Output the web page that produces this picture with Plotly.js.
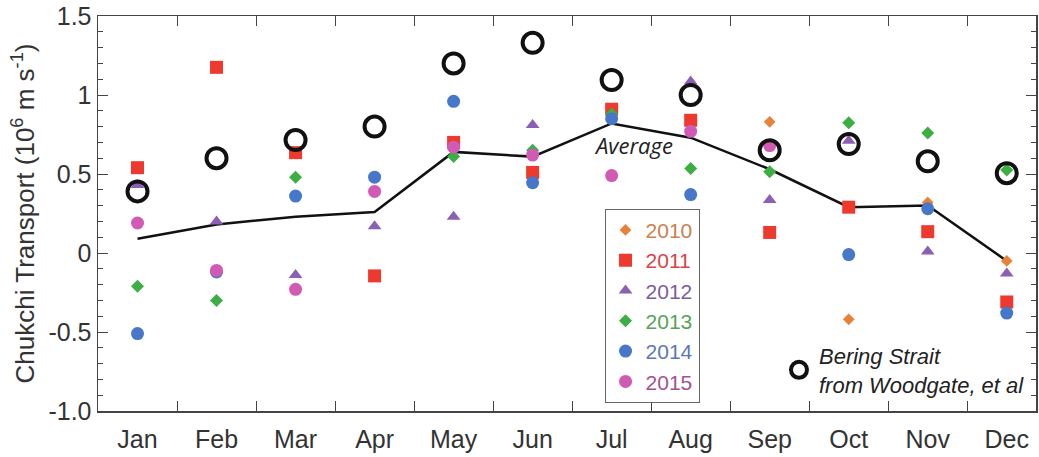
<!DOCTYPE html>
<html>
<head>
<meta charset="utf-8">
<script src="https://cdn.plot.ly/plotly-3.0.1.min.js"></script>
<style>html,body{margin:0;padding:0;background:#fff;}#chart{width:1039px;height:457px;}</style>
</head>
<body>
<div id="chart"></div>
<script>
const months = ["Jan","Feb","Mar","Apr","May","Jun","Jul","Aug","Sep","Oct","Nov","Dec"];
const y2010 = [null,null,null,null,null,null,null,null,0.83,-0.42,0.32,-0.05];
const y2011 = [0.54,1.175,0.635,-0.145,0.70,0.51,0.91,0.84,0.13,0.29,0.135,-0.31];
const y2012 = [0.43,0.20,-0.14,0.17,0.23,0.81,null,1.085,0.335,0.71,0.01,-0.13];
const y2013 = [-0.21,-0.30,0.48,null,0.61,0.65,0.88,0.535,0.515,0.825,0.76,0.525];
const y2014 = [-0.51,-0.12,0.36,0.48,0.96,0.445,0.85,0.37,null,-0.01,0.28,-0.38];
const y2015 = [0.19,-0.11,-0.23,0.39,0.67,0.62,0.49,0.77,0.68,null,null,null];
const average = [0.09,0.18,0.23,0.26,0.64,0.61,0.82,0.73,0.53,0.29,0.30,-0.05];
const bering = [0.39,0.60,0.715,0.80,1.20,1.33,1.095,1.00,0.65,0.69,0.58,0.505];
const yTickVals = [1.5,1,0.5,0,-0.5,-1.0];
const yTickText = ["1.5","1","0.5","0","-0.5","-1.0"];

const years = [
  {name:"2010", y:y2010, color:"#E8823A", text:"#C9824F", symbol:"diamond", size:9},
  {name:"2011", y:y2011, color:"#EE3A2E", text:"#D9444A", symbol:"square", size:13},
  {name:"2012", y:y2012, color:"#8B5FB4", text:"#7D5C9E", symbol:"triangle-up", size:12},
  {name:"2013", y:y2013, color:"#3DAE44", text:"#55A358", symbol:"diamond", size:10},
  {name:"2014", y:y2014, color:"#4677C8", text:"#5B78B5", symbol:"circle", size:13},
  {name:"2015", y:y2015, color:"#D05AB4", text:"#A3528F", symbol:"circle", size:13}
];

const traces = [{
  x: months, y: average, type:"scatter", mode:"lines",
  line:{color:"#111", width:2.5}, showlegend:false, hoverinfo:"skip"
}];
years.forEach(s => {
  traces.push({
    x: months, y: s.y, type:"scatter", mode:"markers",
    name: '<span style="color:' + s.text + '">' + s.name + '</span>',
    marker:{symbol:s.symbol, size:s.size, color:s.color, line:{width:0}},
    legend:"legend"
  });
});
traces.push({
  x: months, y: bering, type:"scatter", mode:"markers",
  name:"<i>Bering Strait<br>from Woodgate, et al</i>",
  marker:{symbol:"circle-open", size:20, color:"#111", line:{width:4, color:"#111"}},
  legend:"legend2"
});

const layout = {
  width:1039, height:457,
  margin:{l:98, r:3, t:16, b:46},
  paper_bgcolor:"#fff", plot_bgcolor:"#fff",
  font:{family:"Liberation Sans, Arial, sans-serif", color:"#333", size:20},
  showlegend:true,
  xaxis:{
    type:"category", range:[-0.5, 11.37],
    tickson:"boundaries", ticks:"inside", ticklen:10, tickcolor:"#444",
    showline:true, linecolor:"#444", linewidth:1.5, mirror:"ticks",
    showgrid:false, zeroline:false, ticklabelstandoff:5,
    tickfont:{size:25, color:"#333"}
  },
  yaxis:{
    range:[-1.0, 1.5],
    tickmode:"array", tickvals:yTickVals, ticktext:yTickText,
    ticks:"inside", ticklen:10, tickcolor:"#444",
    minor:{tickmode:"linear", tick0:0, dtick:0.1, ticks:"inside", ticklen:5, tickcolor:"#444", showgrid:false},
    showline:true, linecolor:"#444", linewidth:1.5, mirror:"ticks",
    showgrid:false, zeroline:false,
    tickfont:{size:25, color:"#333"},
    title:{text:"Chukchi Transport (10<sup>6</sup> m s<sup>-1</sup>)", font:{size:26, color:"#333"}, standoff:6}
  },
  legend:{
    x:0.54, y:0.512, xanchor:"left", yanchor:"top",
    bgcolor:"#fff", bordercolor:"#666", borderwidth:1,
    font:{size:21}, itemwidth:30, tracegroupgap:0
  },
  legend2:{
    x:0.726, y:0.193, xanchor:"left", yanchor:"top",
    bgcolor:"rgba(0,0,0,0)", borderwidth:0,
    font:{size:22, color:"#222"}, itemwidth:30
  },
  annotations:[{
    x:6.28, y:0.685, xref:"x", yref:"y", showarrow:false,
    text:"<i>Average</i>", font:{size:22, color:"#222", family:"Open Sans, Liberation Sans, sans-serif"}
  }]
};

Plotly.newPlot("chart", traces, layout, {displayModeBar:false, staticPlot:true});
</script>
</body>
</html>
